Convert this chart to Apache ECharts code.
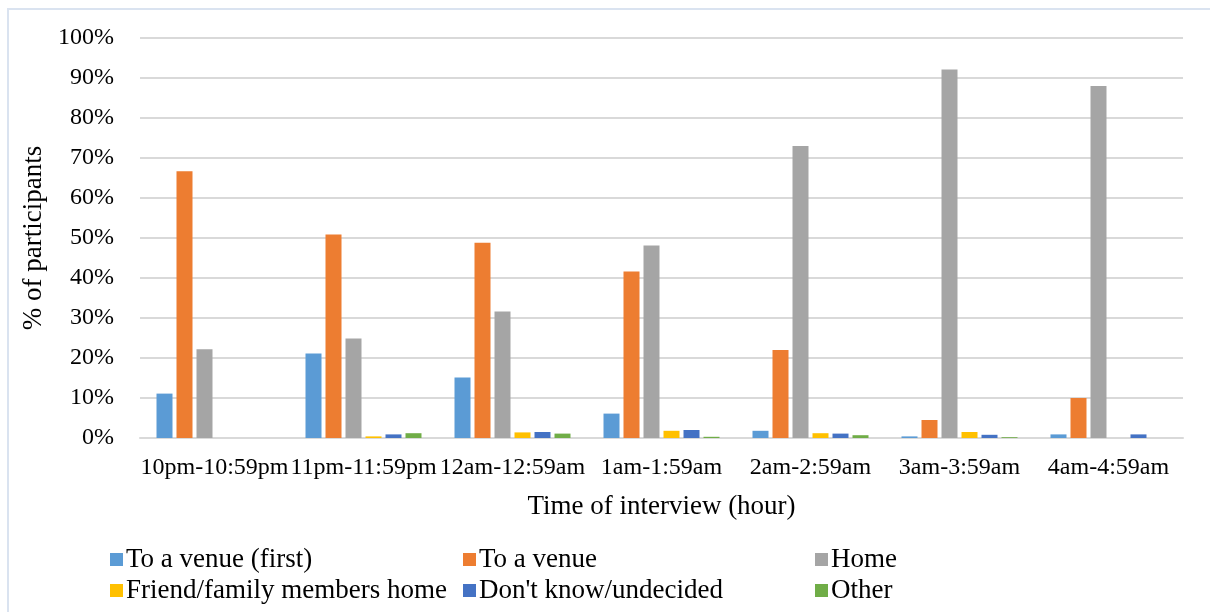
<!DOCTYPE html>
<html>
<head>
<meta charset="utf-8">
<script src="https://cdn.jsdelivr.net/npm/echarts@6/dist/echarts.min.js"></script>
<style>
  html, body { margin: 0; padding: 0; background: #fff; }
  #chart { width: 1210px; height: 612px; }
</style>
</head>
<body>
<div id="chart"></div>
<script>
// Time slots of the interview
const categories = ['10pm-10:59pm', '11pm-11:59pm', '12am-12:59am', '1am-1:59am', '2am-2:59am', '3am-3:59am', '4am-4:59am'];

// Destination shares (% of participants) per time slot
const venueFirst   = [11.1, 21.1, 15.1, 6.1, 1.8, 0.4, 0.9];
const venue        = [66.7, 50.9, 48.8, 41.6, 22.0, 4.5, 10.0];
const home         = [22.2, 24.9, 31.6, 48.1, 73.0, 92.1, 88.0];
const friendHome   = [0, 0.4, 1.4, 1.8, 1.2, 1.5, 0];
const dontKnow     = [0, 0.9, 1.5, 2.0, 1.1, 0.8, 0.9];
const other        = [0, 1.2, 1.1, 0.3, 0.7, 0.2, 0];

const seriesNames = ['To a venue (first)', 'To a venue', 'Home', 'Friend/family members home', "Don't know/undecided", 'Other'];
const seriesData = [venueFirst, venue, home, friendHome, dontKnow, other];
const colors = ['#5B9BD5', '#ED7D31', '#A5A5A5', '#FFC000', '#4472C4', '#70AD47'];

const FONT = "'Liberation Serif', 'Times New Roman', serif";

const chart = echarts.init(document.getElementById('chart'), null, { renderer: 'canvas' });

const legendBase = {
  orient: 'vertical',
  top: 546,
  icon: 'rect',
  itemWidth: 13,
  itemHeight: 13,
  itemGap: 4,
  padding: 0,
  textStyle: { fontFamily: FONT, fontSize: 27, color: '#000', lineHeight: 27, padding: [0, 0, 0, -2] }
};

chart.setOption({
  animation: false,
  color: colors,
  textStyle: { fontFamily: FONT },
  graphic: [{
    type: 'rect',
    shape: { x: 8, y: 9, width: 1230, height: 700 },
    style: { fill: 'none', stroke: '#DAE3F0', lineWidth: 2 },
    silent: true
  }],
  grid: { left: 140, right: 27, top: 38, bottom: 174 },
  legend: [
    Object.assign({}, legendBase, { left: 110, data: [seriesNames[0], seriesNames[3]] }),
    Object.assign({}, legendBase, { left: 463, data: [seriesNames[1], seriesNames[4]] }),
    Object.assign({}, legendBase, { left: 815, data: [seriesNames[2], seriesNames[5]] })
  ],
  xAxis: {
    type: 'category',
    data: categories,
    name: 'Time of interview (hour)',
    nameLocation: 'middle',
    nameGap: 55,
    nameTextStyle: { fontFamily: FONT, fontSize: 27, color: '#000' },
    axisLine: { lineStyle: { color: '#D9D9D9', width: 2 } },
    axisTick: { show: false },
    axisLabel: { interval: 0, fontFamily: FONT, fontSize: 24, color: '#000', margin: 18 }
  },
  yAxis: {
    type: 'value',
    min: 0,
    max: 100,
    interval: 10,
    name: '% of participants',
    nameLocation: 'middle',
    nameGap: 80,
    nameRotate: 90,
    nameTextStyle: { fontFamily: FONT, fontSize: 27, color: '#000' },
    axisLine: { show: false },
    axisTick: { show: false },
    axisLabel: { formatter: '{value}%', fontFamily: FONT, fontSize: 24, color: '#000', margin: 26 },
    splitLine: { lineStyle: { color: '#D9D9D9', width: 2 } }
  },
  series: seriesNames.map((name, i) => ({
    name: name,
    type: 'bar',
    data: seriesData[i],
    barWidth: 16,
    barGap: '25%',
    itemStyle: { color: colors[i] }
  }))
});
</script>
</body>
</html>
